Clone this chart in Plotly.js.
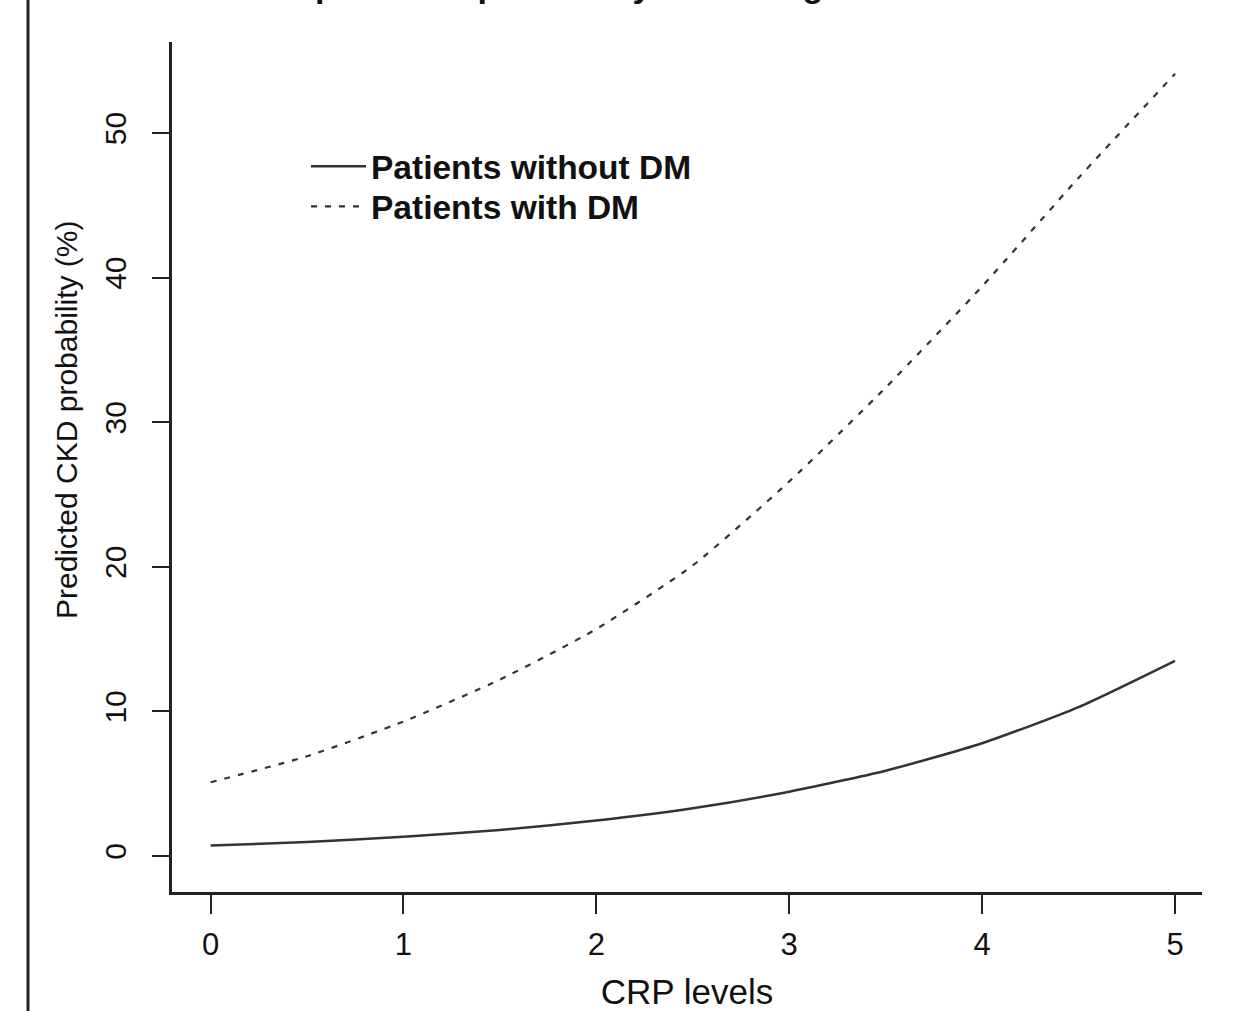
<!DOCTYPE html>
<html>
<head>
<meta charset="utf-8">
<script src="https://cdn.plot.ly/plotly-3.0.1.min.js"></script>
<style>
  html, body { margin: 0; padding: 0; background: #fff; }
  #chart { width: 1239px; height: 1011px; }
</style>
</head>
<body>
<div id="chart"></div>
<script>
// Data
const crpLevels = [0, 0.5, 1, 1.5, 2, 2.5, 3, 3.5, 4, 4.5, 5];
const probWithoutDM = [0.72, 0.97, 1.33, 1.8, 2.45, 3.3, 4.45, 5.9, 7.8, 10.3, 13.5];
const probWithDM = [5.1, 6.9, 9.3, 12.2, 15.7, 20.1, 25.9, 32.4, 39.4, 46.9, 54.1];
const seriesNames = ["Patients without DM", "Patients with DM"];
const xTickVals = [0, 1, 2, 3, 4, 5];
const yTickVals = [0, 10, 20, 30, 40, 50];
const chartTitle = "CKD predicted probability according to CRP and diabetes";
const xTitle = "CRP levels";
const yTitle = "Predicted CKD probability (%)";

const FONT = "Liberation Sans, Arial, Helvetica, sans-serif";
const W = 1239, H = 1011;
const L = 172, R = 37, T = 42, B = 119;
const pw = W - L - R, ph = H - T - B;
const px2x = p => (p - L) / pw;
const py2y = p => (H - B - p) / ph;

const traces = [
  {
    x: crpLevels, y: probWithoutDM, name: seriesNames[0],
    type: "scatter", mode: "lines", legend: "legend",
    line: { color: "#333333", width: 2.5, shape: "spline", smoothing: 0.6 }
  },
  {
    x: crpLevels, y: probWithDM, name: seriesNames[1],
    type: "scatter", mode: "lines", legend: "legend2",
    line: { color: "#333333", width: 2.2, dash: "6px,8px", shape: "spline", smoothing: 0.6 }
  }
];

const legendStyle = (topPx) => ({
  x: px2x(306), y: py2y(topPx), xanchor: "left", yanchor: "top",
  bgcolor: "rgba(0,0,0,0)", borderwidth: 0,
  font: { family: FONT, size: 33.5, color: "#111111", weight: "bold" },
  itemwidth: 55, tracegroupgap: 0
});

const layout = {
  width: W, height: H,
  margin: { l: L, r: R, t: T, b: B, pad: 0 },
  paper_bgcolor: "#ffffff",
  plot_bgcolor: "#ffffff",
  font: { family: FONT, color: "#111111", size: 30 },
  showlegend: true,
  legend: legendStyle(138),
  legend2: legendStyle(178),
  xaxis: {
    range: [-0.2, 5.14],
    tickmode: "array", tickvals: xTickVals,
    showgrid: false, zeroline: false,
    showline: true, linecolor: "#222222", linewidth: 3,
    ticks: "outside", ticklen: 19, tickwidth: 2, tickcolor: "#222222",
    tickfont: { family: FONT, size: 31, color: "#111111" },
    ticklabelstandoff: 4,
    title: { text: xTitle, font: { family: FONT, size: 35, color: "#111111" }, standoff: 31 }
  },
  yaxis: {
    range: [-2.49, 56.3],
    tickmode: "array", tickvals: yTickVals,
    showgrid: false, zeroline: false,
    showline: true, linecolor: "#222222", linewidth: 3,
    ticks: "outside", ticklen: 17, tickwidth: 2, tickcolor: "#222222",
    tickangle: -90,
    tickfont: { family: FONT, size: 30, color: "#111111" },
    ticklabelstandoff: 14
  },
  annotations: [
    {
      text: yTitle, textangle: -90, showarrow: false,
      xref: "paper", yref: "paper", x: px2x(66), y: py2y(420),
      xanchor: "center", yanchor: "middle",
      font: { family: FONT, size: 30, color: "#111111" }
    },
    {
      text: "<b>" + chartTitle + "</b>", showarrow: false,
      xref: "paper", yref: "paper", x: px2x(697), y: py2y(6),
      xanchor: "center", yanchor: "bottom",
      font: { family: FONT, size: 34, color: "#111111" }
    }
  ],
  shapes: [
    {
      type: "line", xref: "paper", yref: "paper",
      x0: px2x(28), x1: px2x(28), y0: py2y(-5), y1: py2y(H + 5),
      line: { color: "#222222", width: 3 }
    }
  ]
};

Plotly.newPlot("chart", traces, layout, { displayModeBar: false, staticPlot: true });
</script>
</body>
</html>
